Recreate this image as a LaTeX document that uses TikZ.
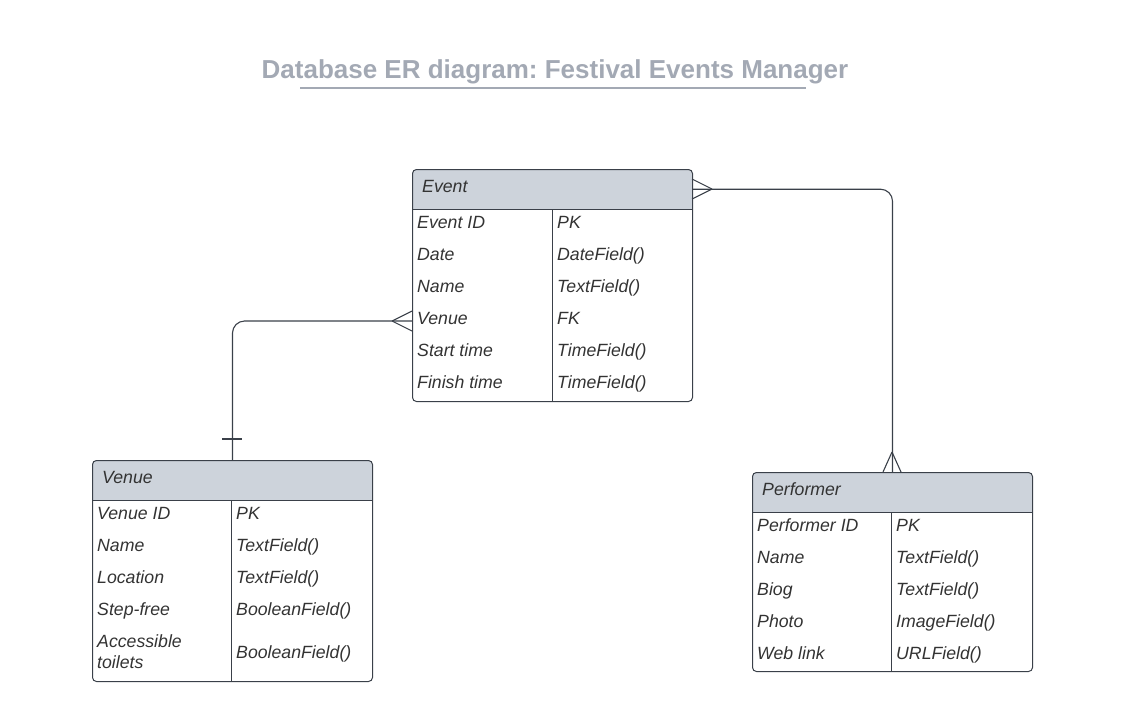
\documentclass[tikz,border=0pt]{standalone}
\usepackage{fontspec}
\setmainfont{Liberation Sans}
\usetikzlibrary{positioning}
\frenchspacing

\definecolor{titlegray}{HTML}{A3A9B4}
\definecolor{headfill}{HTML}{CDD3DB}
\definecolor{linegray}{HTML}{3A4049}
\definecolor{textgray}{HTML}{333333}

\begin{document}
\begin{tikzpicture}[x=1pt, y=-1pt,
	every node/.style = {inner sep=0pt, text=textgray,
		font=\fontsize{17.7}{21}\selectfont\itshape},
	tablebox/.style = {draw=linegray, line width=1pt, rounded corners=4pt,
		anchor=north west, minimum width=280pt},
	headbox/.style = {fill=headfill, rounded corners=4pt,
		anchor=north west, minimum width=280pt, minimum height=40pt},
	field/.style = {anchor=base west, align=left},
	link/.style = {draw=linegray, line width=1.1pt}]
	\useasboundingbox (0,0) rectangle (1140,721);

	% title
	\node[font=\fontsize{26}{30}\selectfont\bfseries, text=titlegray, anchor=base] (title) at (555,78) {Database ER diagram: Festival Events Manager};
	\draw[titlegray, line width=2pt] (300,88) -- (806,88);

	% Event
	\node[headbox] (evhead) at (412,169) {};
	\fill[headfill] (412,190) rectangle (692,209);
	\node[tablebox, minimum height=232pt] (event) at (412,169) {};
	\draw[linegray] (412,209) -- (692,209);
	\draw[linegray] (552,209) -- (552,401);
	\node[field] (evname) at (422,192) {Event};
	\node[field] (ev1) at (417,228) {Event ID};
	\node[field] (ev1t) at (557,228) {PK};
	\node[field] (ev2) at (417,260) {Date};
	\node[field] (ev2t) at (557,260) {DateField()};
	\node[field] (ev3) at (417,292) {Name};
	\node[field] (ev3t) at (557,292) {TextField()};
	\node[field] (ev4) at (417,324) {Venue};
	\node[field] (ev4t) at (557,324) {FK};
	\node[field] (ev5) at (417,356) {Start time};
	\node[field] (ev5t) at (557,356) {TimeField()};
	\node[field] (ev6) at (417,388) {Finish time};
	\node[field] (ev6t) at (557,388) {TimeField()};

	% Venue
	\node[headbox] (vnhead) at (92,460) {};
	\fill[headfill] (92,481) rectangle (372,500);
	\node[tablebox, minimum height=221pt] (venue) at (92,460) {};
	\draw[linegray] (92,500) -- (372,500);
	\draw[linegray] (231,500) -- (231,681);
	\node[field] (vnname) at (102,483) {Venue};
	\node[field] (vn1) at (97,519) {Venue ID};
	\node[field] (vn1t) at (236,519) {PK};
	\node[field] (vn2) at (97,551) {Name};
	\node[field] (vn2t) at (236,551) {TextField()};
	\node[field] (vn3) at (97,583) {Location};
	\node[field] (vn3t) at (236,583) {TextField()};
	\node[field] (vn4) at (97,615) {Step-free};
	\node[field] (vn4t) at (236,615) {BooleanField()};
	\node[field] (vn5) at (97,647) {Accessible};
	\node[field] (vn5b) at (97,668) {toilets};
	\node[field] (vn5t) at (236,658) {BooleanField()};

	% Performer
	\node[headbox] (pfhead) at (752,472) {};
	\fill[headfill] (752,493) rectangle (1032,512);
	\node[tablebox, minimum height=199pt] (performer) at (752,472) {};
	\draw[linegray] (752,512) -- (1032,512);
	\draw[linegray] (891,512) -- (891,671);
	\node[field] (pfname) at (762,495) {Performer};
	\node[field] (pf1) at (757,531) {Performer ID};
	\node[field] (pf1t) at (896,531) {PK};
	\node[field] (pf2) at (757,563) {Name};
	\node[field] (pf2t) at (896,563) {TextField()};
	\node[field] (pf3) at (757,595) {Biog};
	\node[field] (pf3t) at (896,595) {TextField()};
	\node[field] (pf4) at (757,627) {Photo};
	\node[field] (pf4t) at (896,627) {ImageField()};
	\node[field] (pf5) at (757,659) {Web link};
	\node[field] (pf5t) at (896,659) {URLField()};

	% relations
	\coordinate (evvenue) at (412,321);
	\draw[link, rounded corners=12pt] (evvenue) -| (venue.north);
	\draw[link] (392,321) -- (412,311) (392,321) -- (412,331);
	\draw[link] (222,439) -- (242,439);

	\draw[link, rounded corners=12pt] (evhead.east) -| (performer.north);
	\draw[link] (712,189) -- (692,179) (712,189) -- (692,199);
	\draw[link] (892,452) -- (883,472) (892,452) -- (901,472);
\end{tikzpicture}
\end{document}
